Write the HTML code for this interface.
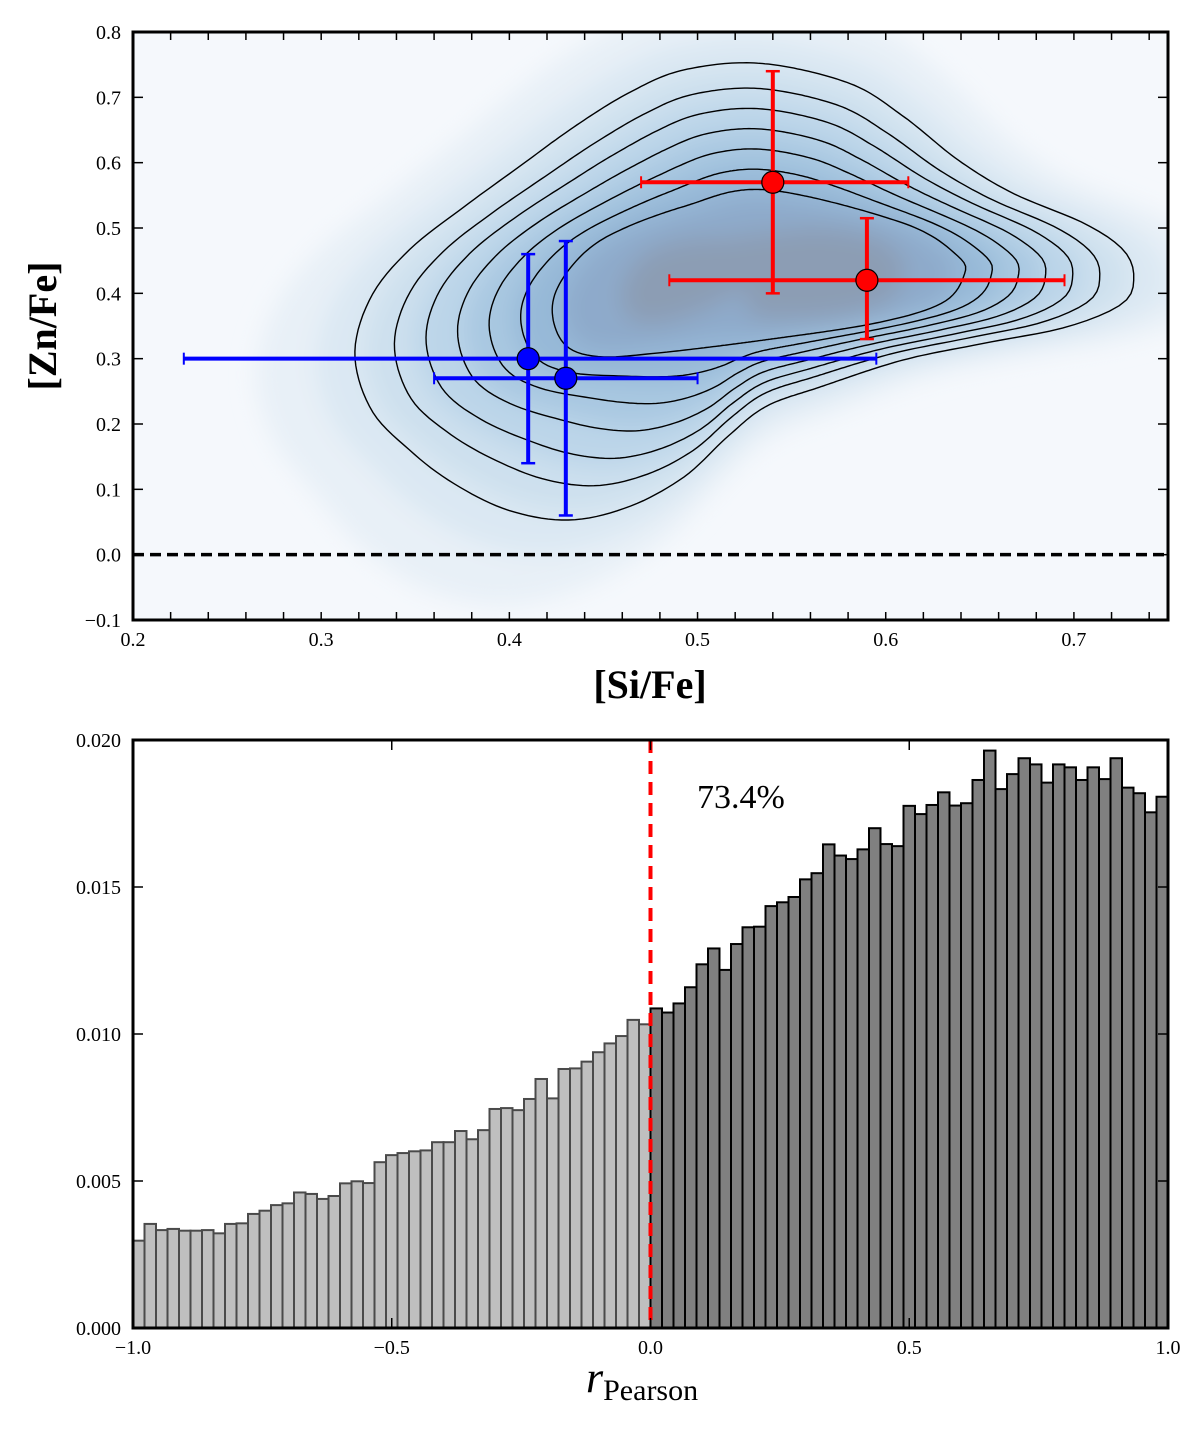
<!DOCTYPE html>
<html><head><meta charset="utf-8"><style>
html,body{margin:0;padding:0;background:#fff}
svg{display:block}
text{font-family:"Liberation Serif",serif}
</style></head><body>
<svg id="fig" width="1200" height="1430" viewBox="0 0 1200 1430" xmlns="http://www.w3.org/2000/svg">
<defs>
<filter id="blur1" x="-50%" y="-50%" width="200%" height="200%"><feGaussianBlur stdDeviation="12"/></filter>
<clipPath id="clipTop"><rect x="133" y="32" width="1035" height="588"/></clipPath>
</defs>
<g id="topPanel"></g>
<g id="botPanel"></g>
</svg>
<script>
// ---------- Top panel data ----------
const redX = [0.54, 0.59];
const redY = [0.57, 0.42];
const redXlo = [0.47, 0.485];
const redXhi = [0.612, 0.695];
const redYlo = [0.40, 0.33];
const redYhi = [0.74, 0.515];
const blueX = [0.41, 0.43];
const blueY = [0.30, 0.27];
const blueXlo = [0.227, 0.36];
const blueXhi = [0.595, 0.50];
const blueYlo = [0.14, 0.06];
const blueYhi = [0.46, 0.48];
const outerContour = [[.5336,.752],[.5802,.722],[.6093,.671],[.6385,.604],[.6677,.553],[.7055,.507],[.726,.467],[.7318,.426],[.726,.385],[.6968,.349],[.6531,.324],[.6093,.298],[.5655,.257],[.5365,.227],[.5161,.181],[.4928,.119],[.4636,.0735],[.4316,.053],[.3995,.068],[.3704,.109],[.347,.160],[.3266,.222],[.3179,.308],[.3266,.395],[.347,.467],[.3762,.533],[.4053,.594],[.4345,.655],[.4636,.707],[.4928,.742]];
const innerContour = [[.5365,.5585],[.6093,.5075],[.6385,.4565],[.6414,.426],[.6298,.385],[.5948,.3545],[.5365,.329],[.4783,.3085],[.4462,.3035],[.4287,.324],[.4228,.38],[.4316,.436],[.452,.487],[.4928,.533]];
const contourLevels = [0, 0.2, 0.36, 0.52, 0.68, 0.84, 1];
const densityCenter = [0.53, 0.43];
const topXTicks = [0.2,0.3,0.4,0.5,0.6,0.7];
const topYTicks = [-0.1,0.0,0.1,0.2,0.3,0.4,0.5,0.6,0.7,0.8];
const topXTickLabels = ["0.2","0.3","0.4","0.5","0.6","0.7"];
const topYTickLabels = ["\u22120.1","0.0","0.1","0.2","0.3","0.4","0.5","0.6","0.7","0.8"];

// ---------- Bottom panel data ----------
const histLeft = [.00297,.00354,.00333,.00337,.00331,.00331,.00333,.00322,.00354,.00356,.00388,.00399,.00418,.00424,.00461,.00456,.00439,.00449,.00492,.00499,.00493,.00564,.00588,.00595,.00601,.00604,.00632,.00632,.0067,.00642,.00673,.00745,.00748,.00741,.00779,.00847,.00781,.00881,.00883,.00906,.00938,.00968,.00993,.01048,.01033];
const histRight = [.01087,.01073,.01104,.01159,.01237,.01291,.01218,.01306,.01363,.01365,.01435,.01448,.01466,.01526,.01547,.01645,.01607,.01595,.01628,.01700,.01646,.01639,.01776,.01748,.01779,.01822,.01777,.01785,.01864,.01964,.01833,.01884,.01938,.01917,.01855,.01917,.01907,.01864,.01907,.01867,.01938,.01838,.01819,.01754,.01807];
const botXTicks = [-1.0,-0.5,0.0,0.5,1.0];
const botXTickLabels = ["\u22121.0","\u22120.5","0.0","0.5","1.0"];
const botYTicks = [0,0.005,0.010,0.015,0.020];
const botYTickLabels = ["0.000","0.005","0.010","0.015","0.020"];
const percentLabel = "73.4%";

const NS = "http://www.w3.org/2000/svg";
function mk(parent, tag, attrs){ const e=document.createElementNS(NS,tag); for(const k in attrs) e.setAttribute(k,attrs[k]); parent.appendChild(e); return e; }

const tX = v => 133 + (v-0.2)/0.55*1035;
const tY = v => 620 - (v+0.1)/0.9*588;
const bX = v => 133 + (v+1)/2*1035;
const bY = v => 1328 - v/0.02*588;

const topG = document.getElementById('topPanel');
const bg = mk(topG,'rect',{x:133,y:32,width:1035,height:588,fill:'#f5f8fc'});



function smoothClosed(pts, n){
  const out=[]; const L=pts.length;
  for(let i=0;i<L;i++){
    const p0=pts[(i-1+L)%L],p1=pts[i],p2=pts[(i+1)%L],p3=pts[(i+2)%L];
    for(let k=0;k<n;k++){ const t=k/n,t2=t*t,t3=t2*t;
      const f=(a,b,c,d)=>0.5*((2*b)+(-a+c)*t+(2*a-5*b+4*c-d)*t2+(-a+3*b-3*c+d)*t3);
      out.push([f(p0[0],p1[0],p2[0],p3[0]),f(p0[1],p1[1],p2[1],p3[1])]); }
  }
  return out;
}
const cx=tX(densityCenter[0]), cy=tY(densityCenter[1]);
const outerPx = smoothClosed(outerContour.map(p=>[tX(p[0]),tY(p[1])]),12);
const innerPx = smoothClosed(innerContour.map(p=>[tX(p[0]),tY(p[1])]),12);
function rayR(poly, ang){
  const dx=Math.cos(ang), dy=Math.sin(ang); let best=0;
  for(let i=0;i<poly.length;i++){
    const a=poly[i], b=poly[(i+1)%poly.length];
    const ex=b[0]-a[0], ey=b[1]-a[1];
    const den = dx*ey - dy*ex; if(Math.abs(den)<1e-9) continue;
    const ax=a[0]-cx, ay=a[1]-cy;
    const t=(ax*ey-ay*ex)/den, u=(ax*dy-ay*dx)/den;
    if(t>0 && u>=0 && u<=1 && t>best) best=t;
  }
  return best;
}
const NA=360; const rOut=[], rIn=[];
for(let i=0;i<NA;i++){ const a=i/NA*2*Math.PI; rOut.push(rayR(outerPx,a)); rIn.push(rayR(innerPx,a)); }
function levelPath(t){
  let d='';
  for(let i=0;i<NA;i++){ const a=i/NA*2*Math.PI; const r=Math.max(0,rOut[i]+(rIn[i]-rOut[i])*t);
    d+=(i?'L':'M')+(cx+r*Math.cos(a)).toFixed(1)+','+(cy+r*Math.sin(a)).toFixed(1); }
  return d+'Z';
}
const shade = mk(topG,'g',{'clip-path':'url(#clipTop)'});


const shadeInner = mk(shade,'g',{filter:'url(#blur1)'});
const shadeLevels=[-0.5,-0.2,0.05,0.3,0.55,0.8,1.05,1.35];
const shadeCols=['#e8f0f7','#dbe8f3','#cde0ee','#bcd5e9','#a9c8e1','#97b9d8','#8eaacb','#8c9db4'];
shadeLevels.forEach((t,i)=>{ const p=mk(shadeInner,'path',{d:levelPath(t),fill:shadeCols[i]});
    });
const cg = mk(topG,'g',{});


contourLevels.forEach(t=>{ const p=mk(cg,'path',{d:levelPath(t),fill:'none',stroke:'#000','stroke-width':1.4});
    });

const zl = mk(topG,'line',{x1:133,x2:1168,y1:tY(0),y2:tY(0),stroke:'#000','stroke-width':3.5,'stroke-dasharray':'11,6'});



function errPoint(xv,yv,xl,xh,yl,yh,col,name){
  const g=mk(topG,'g',{stroke:col,'stroke-width':4});
  
  
  mk(g,'line',{x1:tX(xl),x2:tX(xh),y1:tY(yv),y2:tY(yv)});
  mk(g,'line',{x1:tX(xv),x2:tX(xv),y1:tY(yl),y2:tY(yh)});
  mk(g,'line',{x1:tX(xl),x2:tX(xl),y1:tY(yv)-6,y2:tY(yv)+6,'stroke-width':2});
  mk(g,'line',{x1:tX(xh),x2:tX(xh),y1:tY(yv)-6,y2:tY(yv)+6,'stroke-width':2});
  mk(g,'line',{x1:tX(xv)-7,x2:tX(xv)+7,y1:tY(yl),y2:tY(yl),'stroke-width':2.5});
  mk(g,'line',{x1:tX(xv)-7,x2:tX(xv)+7,y1:tY(yh),y2:tY(yh),'stroke-width':2.5});
}
for(let i=0;i<blueX.length;i++) errPoint(blueX[i],blueY[i],blueXlo[i],blueXhi[i],blueYlo[i],blueYhi[i],'#0000ff','blue-errorbar');
for(let i=0;i<redX.length;i++) errPoint(redX[i],redY[i],redXlo[i],redXhi[i],redYlo[i],redYhi[i],'#ff0000','red-errorbar');
for(let i=0;i<blueX.length;i++){ const c=mk(topG,'circle',{cx:tX(blueX[i]),cy:tY(blueY[i]),r:11,fill:'#0000ff',stroke:'#000','stroke-width':1.2});
    }
for(let i=0;i<redX.length;i++){ const c=mk(topG,'circle',{cx:tX(redX[i]),cy:tY(redY[i]),r:11,fill:'#ff0000',stroke:'#000','stroke-width':1.2});
    }

const tf = mk(topG,'rect',{x:133,y:32,width:1035,height:588,fill:'none',stroke:'#000','stroke-width':3});


for(let v=0.2;v<=0.7501;v+=0.02){ mk(topG,'line',{x1:tX(v),x2:tX(v),y1:620,y2:612,stroke:'#000','stroke-width':1.5}); mk(topG,'line',{x1:tX(v),x2:tX(v),y1:32,y2:40,stroke:'#000','stroke-width':1.5}); }
topXTicks.forEach((v,i)=>{ const t=mk(topG,'text',{x:tX(v),y:646,'font-size':20,'text-anchor':'middle'}); t.textContent=topXTickLabels[i];
    });
topYTicks.forEach((v,i)=>{ mk(topG,'line',{x1:133,x2:143,y1:tY(v),y2:tY(v),stroke:'#000','stroke-width':1.5}); mk(topG,'line',{x1:1168,x2:1158,y1:tY(v),y2:tY(v),stroke:'#000','stroke-width':1.5});
  const t=mk(topG,'text',{x:121,y:tY(v)+7,'font-size':20,'text-anchor':'end'}); t.textContent=topYTickLabels[i];
    });
const yt=mk(topG,'text',{x:0,y:0,'font-size':40,'font-weight':'bold','text-anchor':'middle',transform:'translate(56,326) rotate(-90)'}); yt.textContent='[Zn/Fe]';
 
const xt=mk(topG,'text',{x:650,y:698,'font-size':40,'font-weight':'bold','text-anchor':'middle'}); xt.textContent='[Si/Fe]';
 

// ---------- bottom ----------
const botG=document.getElementById('botPanel');
const nb = histLeft.length + histRight.length; const bw=2/nb;
histLeft.forEach((v,i)=>{ const x0=-1+i*bw; const r=mk(botG,'rect',{x:bX(x0),y:bY(v),width:bX(x0+bw)-bX(x0),height:bY(0)-bY(v),fill:'#bfbfbf',stroke:'#4a4a4a','stroke-width':2});
    });
histRight.forEach((v,i)=>{ const x0=-1+(histLeft.length+i)*bw; const r=mk(botG,'rect',{x:bX(x0),y:bY(v),width:bX(x0+bw)-bX(x0),height:bY(0)-bY(v),fill:'#808080',stroke:'#000','stroke-width':2});
    });
const rl=mk(botG,'line',{x1:bX(0),x2:bX(0),y1:740,y2:1328,stroke:'#ff0000','stroke-width':4,'stroke-dasharray':'13,8'});
 
const bf=mk(botG,'rect',{x:133,y:740,width:1035,height:588,fill:'none',stroke:'#000','stroke-width':3});
 
botXTicks.forEach((v,i)=>{ mk(botG,'line',{x1:bX(v),x2:bX(v),y1:1328,y2:1318,stroke:'#000','stroke-width':1.5}); mk(botG,'line',{x1:bX(v),x2:bX(v),y1:740,y2:750,stroke:'#000','stroke-width':1.5});
  const t=mk(botG,'text',{x:bX(v),y:1354,'font-size':20,'text-anchor':'middle'}); t.textContent=botXTickLabels[i];
    });
botYTicks.forEach((v,i)=>{ mk(botG,'line',{x1:133,x2:143,y1:bY(v),y2:bY(v),stroke:'#000','stroke-width':1.5}); mk(botG,'line',{x1:1168,x2:1158,y1:bY(v),y2:bY(v),stroke:'#000','stroke-width':1.5});
  const t=mk(botG,'text',{x:121,y:bY(v)+7,'font-size':20,'text-anchor':'end'}); t.textContent=botYTickLabels[i];
    });
const pct=mk(botG,'text',{x:697,y:808,'font-size':34}); pct.textContent=percentLabel;
 
const bt=mk(botG,'text',{x:586,y:1392,'font-size':44});
 
const r1=mk(bt,'tspan',{'font-style':'italic'}); r1.textContent='r';
const r2=mk(bt,'tspan',{'font-size':30,dy:8}); r2.textContent='Pearson';
</script>
</body></html>
